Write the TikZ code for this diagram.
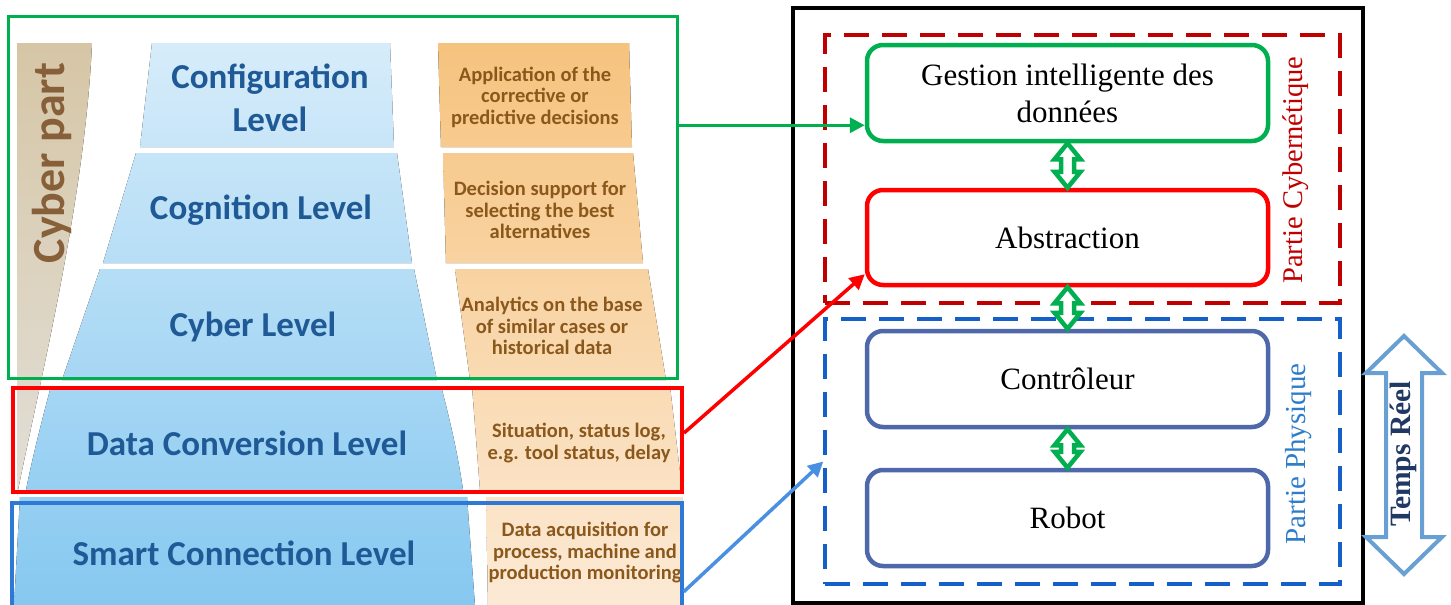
\documentclass[tikz,border=0pt]{standalone}
\usepackage{fontspec}
\setmainfont{Liberation Serif}
\newfontfamily\calfont{Carlito}
\usetikzlibrary{arrows.meta,calc}

\definecolor{lvlblue}{RGB}{31,90,150}
\definecolor{descbrown}{RGB}{139,88,28}
\definecolor{tanA}{RGB}{214,198,166}
\definecolor{tanB}{RGB}{226,223,216}
\definecolor{cybtext}{RGB}{135,96,58}
\definecolor{skyA}{RGB}{214,236,250}
\definecolor{skyB}{RGB}{134,200,240}
\definecolor{ochA}{RGB}{246,195,126}
\definecolor{ochB}{RGB}{252,234,214}
\definecolor{frgreen}{RGB}{0,176,80}
\definecolor{frred}{RGB}{255,0,0}
\definecolor{frblue}{RGB}{46,120,214}
\definecolor{arblue}{RGB}{74,144,226}
\definecolor{darkred}{RGB}{192,0,0}
\definecolor{dashblue}{RGB}{20,95,200}
\definecolor{physblue}{RGB}{46,125,200}
\definecolor{boxblue}{RGB}{78,104,170}
\definecolor{rtblue}{RGB}{104,160,212}
\definecolor{rttext}{RGB}{31,56,100}

% hollow vertical double arrow: #1 upper tip, #2 lower tip,
% #3 half head width, #4 half shaft width, #5 head length, #6 style
\newcommand\hollowarrow[6]{%
  \draw[#6] (#1) -- ++(#3,#5) -- ++(-#3+#4,0) -- ($(#2)+(#4,-#5)$)
    -- ++(#3-#4,0) -- (#2) -- ++(-#3,-#5) -- ++(#3-#4,0)
    -- ($(#1)+(-#4,#5)$) -- ++(-#3+#4,0) -- cycle;}

\begin{document}
\begin{tikzpicture}[x=1pt,y=-1pt,
  lvl/.style={text=lvlblue, font=\calfont\bfseries\fontsize{35}{43}\selectfont, align=center, inner sep=0},
  desc/.style={text=descbrown, font=\calfont\bfseries\fontsize{20.5}{21.5}\selectfont, align=center, inner sep=0},
  zone/.style={draw, inner sep=0, minimum width=#1},
  part/.style={draw, dashed, dash pattern=on 25pt off 13pt, line width=3.5pt, inner sep=0},
  unit/.style={draw, line width=4.5pt, rounded corners=16pt, minimum width=401, align=center,
    font=\fontsize{31}{37}\selectfont},
  link/.style={line width=3.5pt, -{Triangle[length=15pt,width=15pt]}},
  sync/.style={draw=frgreen, fill=white, line width=4.5pt, line join=miter}]
\useasboundingbox (0,0) rectangle (1451,605);
\fill[white] (0,0) rectangle (1451,605);

% ---------- 5C architecture ----------
% cyber part band
\fill[top color=tanA, bottom color=tanB]
  (17,43) -- (92,43) .. controls (85,200) and (40,380) .. (17,495) -- cycle;
\node[text=cybtext, font=\calfont\bfseries\fontsize{46}{50}\selectfont, rotate=90, inner sep=0]
  (cyberpart) at (52,163) {Cyber part};

% level layers
\fill[top color=skyA, bottom color=skyB!18!skyA] (152,43) -- (390,43) -- (394,147) -- (140,147) -- cycle;
\fill[top color=skyB!20!skyA, bottom color=skyB!39!skyA] (136,153) -- (397,153) -- (412,263) -- (103,263) -- cycle;
\fill[top color=skyB!40!skyA, bottom color=skyB!60!skyA] (100,269) -- (414,269) -- (437,380) -- (62,380) -- cycle;
\fill[top color=skyB!61!skyA, bottom color=skyB!80!skyA] (51,386) -- (441,386) .. controls (450,420) and (458,455) .. (463,490) -- (26,490) .. controls (33,455) and (42,420) .. cycle;
\fill[top color=skyB!81!skyA, bottom color=skyB] (20,497) -- (467,497) -- (475,606) -- (14,606) -- cycle;

% description boxes
\fill[top color=ochA, bottom color=ochB!18!ochA] (438,43) -- (629,43) -- (632,147) -- (441,147) -- cycle;
\fill[top color=ochB!20!ochA, bottom color=ochB!39!ochA] (443,153) -- (633,153) -- (643,263) -- (446,263) -- cycle;
\fill[top color=ochB!40!ochA, bottom color=ochB!60!ochA] (455,269) -- (648,269) -- (666,380) -- (470,380) -- cycle;
\fill[top color=ochB!61!ochA, bottom color=ochB!80!ochA] (472,386) -- (670,386) -- (682,490) -- (480,490) -- cycle;
\fill[top color=ochB!81!ochA, bottom color=ochB] (486,497) -- (682,497) -- (684,606) -- (488,606) -- cycle;

% level names
\node[lvl] (conf) at (270,98) {Configuration\\Level};
\node[lvl] (cogn) at (261,210) {Cognition Level};
\node[lvl] (cyb)  at (253,327) {Cyber Level};
\node[lvl] (conv) at (247,443) {Data Conversion Level};
\node[lvl] (conn) at (244,553) {Smart Connection Level};

% level descriptions
\node[desc] (dconf) at (535,97) {Application of the\\corrective or\\predictive decisions};
\node[desc] (dcogn) at (540,210) {Decision support for\\selecting the best\\alternatives};
\node[desc] (dcyb)  at (552,326) {Analytics on the base\\of similar cases or\\historical data};
\node[desc] (dconv) at (579,443) {Situation, status log,\\e.g. tool status, delay};
\node[desc] (dconn) at (585,553) {Data acquisition for\\process, machine and\\production monitoring};

% grouping frames
\node[zone=669, draw=frgreen, line width=3pt, minimum height=362] (cyberzone) at (342.5,197) {};
\node[zone=669, draw=frred, line width=4pt, minimum height=104] (convzone) at (347.5,440) {};
\node[zone=670, draw=frblue, line width=3.5pt, minimum height=105] (connzone) at (347,555.5) {};

% ---------- robotic cell ----------
\node[draw=black, line width=4.5pt, inner sep=0, minimum width=570, minimum height=595] (frame) at (1078,305.5) {};
\node[part, draw=darkred, minimum width=515, minimum height=268] (cybzone) at (1082.5,169) {};
\node[part, draw=dashblue, minimum width=515, minimum height=265] (physzone) at (1082.5,451.5) {};

\node[unit, draw=frgreen, minimum height=96] (gestion) at (1067.5,93) {Gestion intelligente des\\donn\'ees};
\node[unit, draw=frred, minimum height=95] (abstr) at (1067.5,237.5) {Abstraction};
\node[unit, draw=boxblue, minimum height=96] (ctrl) at (1067.5,379) {Contr\^oleur};
\node[unit, draw=boxblue, minimum height=96] (robot) at (1067.5,518) {Robot};

\node[text=darkred, rotate=90, font=\fontsize{28.5}{32}\selectfont, inner sep=0] (lcyb) at (1296,170) {Partie Cybern\'etique};
\node[text=physblue, rotate=90, font=\fontsize{29}{32}\selectfont, inner sep=0] (lphys) at (1299,454) {Partie Physique};

% real-time arrow
\coordinate (rttop) at (1404,336);
\coordinate (rtbot) at (1404,574);
\hollowarrow{rttop}{rtbot}{38}{18}{37}{draw=rtblue, fill=white, line width=4pt, line join=miter}
\node[text=rttext, rotate=90, font=\bfseries\fontsize{29.5}{32}\selectfont, inner sep=0] (rtlabel) at (1403,454) {Temps R\'eel};

% exchanges between layers
\hollowarrow{gestion.south}{abstr.north}{13}{6.5}{16}{sync}
\hollowarrow{abstr.south}{ctrl.north}{13}{6.5}{16}{sync}
\hollowarrow{ctrl.south}{robot.north}{13}{6.5}{16}{sync}

% mapping of the 5C levels
\coordinate (gin) at ($(gestion.south west)+(0,-18)$);
\draw[link, frgreen] (cyberzone.east |- gin) -- (gin);
\draw[link, frred] ($(convzone.east)+(0,-7)$) -- ($(abstr.south west)+(0,-13)$);
\draw[link, arblue] ($(connzone.south east)+(0,-18)$) -- ($(physzone.west)+(0,10)$);
\end{tikzpicture}
\end{document}
